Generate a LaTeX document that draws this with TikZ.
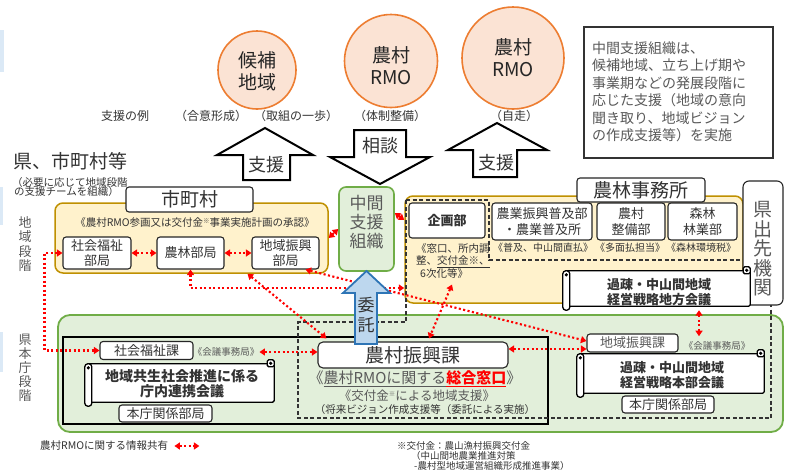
\documentclass[tikz,border=0pt]{standalone}
\usepackage{fontspec}
\setmainfont{Noto Sans CJK JP}
\usetikzlibrary{arrows.meta,calc}
\definecolor{orgB}{HTML}{ED7D31}
\definecolor{orgF}{HTML}{FBE3D4}
\definecolor{yelF}{HTML}{FFF2CC}
\definecolor{yelB}{HTML}{BF9000}
\definecolor{grnF}{HTML}{E2EFDA}
\definecolor{grnB}{HTML}{70AD47}
\definecolor{bluF}{HTML}{BDD7EE}
\definecolor{bluB}{HTML}{2E75B6}
\definecolor{txt}{HTML}{333333}
\definecolor{gtxt}{HTML}{595959}
\newcommand\fsz[2]{\fontsize{#1}{#2}\selectfont}
\newcommand\kome{\raisebox{0.35em}{\fontsize{6.5}{6.5}\selectfont ※}}
\newcommand\scrolldeco[1]{%
  \filldraw[scrl] ([xshift=2pt,yshift=-4pt]#1.north west) rectangle ([yshift=4pt]#1.south east);
  \filldraw[scrl] ([xshift=-7pt]#1.north east) rectangle ([yshift=-7pt]#1.north east);
  \fill ([xshift=-3.5pt,yshift=-3.5pt]#1.north east) circle (1.8pt);
  \filldraw[scrl,rounded corners=3pt] ([yshift=-4pt]#1.north west) rectangle ([xshift=7pt]#1.south west);
  \fill ([xshift=3.5pt,yshift=-8pt]#1.north west) circle (1.8pt);
}
\tikzset{
  rmo/.style={circle, draw=orgB, fill=orgF, line width=1.6pt, inner sep=0pt},
  wbox/.style={draw=black!85, fill=white, rounded corners=3pt, line width=1.1pt, inner sep=0pt, align=center, text=txt},
  ybox/.style={draw=yelB, fill=yelF, rounded corners=8pt, line width=1.5pt, inner sep=0pt},
  gbox/.style={draw=grnB, fill=grnF, rounded corners=6pt, line width=1.6pt, inner sep=0pt},
  scrl/.style={draw=black, fill=white, line width=1.3pt, rounded corners=1.5pt},
  lbl/.style={inner sep=0pt, text=txt, align=center},
  blk/.style={draw=black, fill=white, line width=2pt, line join=miter},
  info/.style={draw=red, line width=2.1pt, dash pattern=on 2.1pt off 2.4pt, {Triangle[length=5.5pt,width=7pt]}-{Triangle[length=5.5pt,width=7pt]}},
}
\begin{document}
\begin{tikzpicture}[x=1pt,y=-1pt]
\useasboundingbox (0,0) rectangle (786,474);
\fill[white] (0,0) rectangle (786,474);
% edge artifacts
\fill[bluF!55] (0,30) rectangle (3.5,72);
\fill[bluF!55] (0,187) rectangle (3,225);
\fill[bluF!55] (0,332) rectangle (3,372);

% circles
\node[rmo, minimum size=78pt] (c1) at (257,70) {};
\node[lbl, font=\fsz{19}{22}, text=black!85] (c1t) at (257,71) {候補\\地域};
\node[rmo, minimum size=93pt] (c2) at (391,61) {};
\node[lbl, font=\fsz{19}{22}, text=black!85] (c2t) at (391,66) {農村\\RMO};
\node[rmo, minimum size=102pt] (c3) at (513,58) {};
\node[lbl, font=\fsz{19}{22}, text=black!85] (c3t) at (513,58) {農村\\RMO};

\node[lbl, font=\fsz{12}{14}] (rei) at (125,116) {支援の例};
\node[lbl, font=\fsz{12}{14}] (r1) at (211,116) {（合意形成）};
\node[lbl, font=\fsz{12}{14}] (r2) at (296,116) {（取組の一歩）};
\node[lbl, font=\fsz{12}{14}] (r3) at (390,116) {（体制整備）};
\node[lbl, font=\fsz{12}{14}] (r4) at (514,116) {（自走）};

% note box
\node[draw=black!80, line width=1.3pt, minimum width=189pt, minimum height=131pt, inner sep=0pt] (note) at (678.5,92.5) {};
\node[anchor=north west, inner sep=0pt, align=left, text=gtxt, font=\fsz{14}{17.4}] (notet) at (592,41.5)
  {中間支援組織は、\\候補地域、立ち上げ期や\\事業期などの発展段階に\\応じた支援（地域の意向\\聞き取り、地域ビジョン\\の作成支援等）を実施};

% block arrows
\draw[blk] (243,180) -- (243,155) -- (217,155) -- (265,128) -- (313,155) -- (290,155) -- (290,180) -- cycle;
\node[lbl, font=\fsz{18}{18}] (sh1) at (266,165) {支援};
\draw[blk] (354,130) -- (406,130) -- (406,157) -- (430,157) -- (380,184) -- (330,157) -- (354,157) -- cycle;
\node[lbl, font=\fsz{18}{18}] (sodan) at (380,146) {相談};
\draw[blk] (473,177) -- (473,150) -- (448,150) -- (497,123) -- (547,150) -- (517,150) -- (517,177) -- cycle;
\node[lbl, font=\fsz{18}{18}] (sh2) at (496,163) {支援};

% left labels
\node[lbl, font=\fsz{19}{22}] (ken) at (70,161) {県、市町村等};
\node[anchor=west, inner sep=0pt, font=\fsz{10.5}{12}, text=txt] (hitsu1) at (12,183) {（必要に応じて地域段階};
\node[anchor=west, inner sep=0pt, font=\fsz{10.5}{12}, text=txt] (hitsu2) at (14,192) {の支援チームを組織）};
\node[lbl, font=\fsz{13}{14.5}, text=gtxt] (chiikidan) at (25,244) {地\\域\\段\\階};
\node[lbl, font=\fsz{13}{14}, text=gtxt] (honchodan) at (25,368) {県\\本\\庁\\段\\階};

% prefecture HQ (green)
\node[gbox, minimum width=725pt, minimum height=117pt, rounded corners=12pt, line width=1.8pt] (green) at (420.5,373.5) {};
\node[draw=black, line width=1.3pt, minimum width=485pt, minimum height=87pt, inner sep=0pt] (blkrect) at (305.5,380.5) {};

% municipality (yellow)
\node[ybox, minimum width=273pt, minimum height=70pt] (shichoson) at (191.5,238) {};
\node[wbox, minimum width=127pt, minimum height=25pt, font=\fsz{19}{19}] (shlbl) at (189.5,199.5) {市町村};
\node[lbl, font=\fsz{10.5}{12}] (shnote) at (195,223) {《農村RMO参画又は交付金\kome 事業実施計画の承認》};
\node[wbox, minimum width=68pt, minimum height=32pt, font=\fsz{13}{15}] (shbu) at (97,253) {社会福祉\\部局};
\node[wbox, minimum width=67pt, minimum height=32pt, font=\fsz{13}{15}] (noubu) at (190.5,253) {農林部局};
\node[wbox, minimum width=67pt, minimum height=32pt, font=\fsz{13}{15}] (chibu) at (285.5,253) {地域振興\\部局};

% intermediate support org
\node[gbox, minimum width=55pt, minimum height=84pt, rounded corners=7pt] (chukan) at (366.5,229) {};
\node[lbl, font=\fsz{17}{19}, text=gtxt] (chukant) at (366.5,222) {中間\\支援\\組織};

% agriculture office (yellow)
\node[ybox, minimum width=338pt, minimum height=107pt] (nourin) at (574,249.5) {};
\draw[black!80, line width=1.2pt, dash pattern=on 4pt off 2.5pt] (406,200) -- (489,200) -- (489,260) -- (771,260) -- (771,418) -- (298,418) -- (298,322) -- (406,322) -- cycle;
\node[wbox, minimum width=128pt, minimum height=24pt, font=\fsz{19}{19}] (nlbl) at (641,190) {農林事務所};
\node[wbox, minimum width=76pt, minimum height=35pt, font=\bfseries\fsz{13}{15}] (kikaku) at (447,220.5) {企画部};
\node[wbox, minimum width=100pt, minimum height=37pt, font=\fsz{13}{16}] (fukyu) at (542,221.5) {農業振興普及部\\・農業普及所};
\node[wbox, minimum width=68pt, minimum height=37pt, font=\fsz{13}{16}] (seibi) at (631,221.5) {農村\\整備部};
\node[wbox, minimum width=69pt, minimum height=37pt, font=\fsz{13}{16}] (shinrin) at (702.5,221.5) {森林\\林業部};
\node[anchor=north west, inner sep=0pt, align=left, text=txt, font=\fsz{10.5}{12.5}] (kikakun) at (416,243) {《窓口、所内調\\整、\underline{交付金※、}\\\hspace{4pt}6次化等》};
\node[lbl, font=\fsz{10}{12}] (fukyun) at (543,248) {《普及、中山間直払》};
\node[lbl, font=\fsz{10}{12}] (seibin) at (630,248) {《多面払担当》};
\node[lbl, font=\fsz{10}{12}] (shinrinn) at (701,248) {《森林環境税》};

% prefectural branch
\node[wbox, rounded corners=6pt, minimum width=40pt, minimum height=124pt] (dekisaki) at (763,243) {};
\node[lbl, font=\fsz{19}{19.5}, text=gtxt] (dekisakit) at (763,249) {県\\出\\先\\機\\関};

% regional strategy meeting (scroll)
\node[minimum width=187pt, minimum height=43pt, inner sep=0pt] (chiho) at (656.5,288.5) {};
\scrolldeco{chiho}
\node[lbl, font=\bfseries\fsz{13}{15}] (chihot) at (659,292.5) {過疎・中山間地域\\経営戦略地方会議};

% HQ contents
\node[wbox, minimum width=93pt, minimum height=18pt, font=\fsz{13}{13}] (shka) at (146.5,350.5) {社会福祉課};
\node[lbl, font=\fsz{9.5}{10}, text=gtxt] (kaigi1) at (226,352) {《会議事務局》};
\node[minimum width=189pt, minimum height=46pt, inner sep=0pt] (kyosei) at (179.5,383) {};
\scrolldeco{kyosei}
\node[lbl, font=\bfseries\fsz{14}{14.5}] (kyoseit) at (182,383.5) {地域共生社会推進に係る\\庁内連携会議};
\node[wbox, minimum width=93pt, minimum height=17pt, font=\fsz{13}{13}] (honchoL) at (165.5,413.5) {本庁関係部局};

\node[wbox, rounded corners=5pt, minimum width=190pt, minimum height=26pt, font=\fsz{19}{19}] (nrk) at (413,355) {農村振興課};
\node[lbl, font=\fsz{15}{17}, text=gtxt] (nrk1) at (415,379) {《\underline{農村RMOに関する}{\color{red}\bfseries\underline{総合窓口}}》};
\node[lbl, font=\fsz{12.5}{14}, text=gtxt] (nrk2) at (417,396) {《交付金\kome による地域支援》};
\node[lbl, font=\fsz{10.5}{12}] (nrk3) at (425,410) {（将来ビジョン作成支援等（委託による実施）};

\node[wbox, minimum width=91pt, minimum height=18pt, font=\fsz{13}{13}, text=gtxt] (chika) at (632.5,343) {地域振興課};
\node[lbl, font=\fsz{9.5}{10}, text=gtxt] (kaigi2) at (717,346) {《会議事務局》};
\node[minimum width=187pt, minimum height=47pt, inner sep=0pt] (honbu) at (670.5,373.5) {};
\scrolldeco{honbu}
\node[lbl, font=\bfseries\fsz{13}{14.5}] (honbut) at (672,375) {過疎・中山間地域\\経営戦略本部会議};
\node[wbox, minimum width=92pt, minimum height=17pt, font=\fsz{13}{13}] (honchoR) at (668,404.5) {本庁関係部局};

% information sharing connectors
\draw[info] (shbu.east) -- (noubu.west);
\draw[info] (noubu.east) -- (chibu.west);
\draw[info] (shichoson.east) -- (chukan.west);
\draw[info] ([yshift=16pt]chukan.east) -- ([yshift=29.5pt]nourin.west);
\draw[info] (shbu.west) -- ++(-18,0) |- (shka.west);
\draw[info] (noubu.south) |- ([yshift=-38.5pt]nourin.west);
\draw[info] ([xshift=20pt]chibu.south) -- ([yshift=2pt]chika.west);
\draw[info] ([yshift=6pt]nrk.east) -- ([yshift=-6pt]chika.west);
\draw[info] ([xshift=56pt]shichoson.south) -- ([xshift=9pt,yshift=3pt]nrk.north west);
\draw[info] ([xshift=5pt,yshift=-46pt]kikaku.south) -- ([xshift=16pt,yshift=3pt]nrk.north);
\draw[info] (kaigi1.east) -- (kaigi1.east -| nrk.west);
\draw[info] ([xshift=42.5pt]chiho.south) -- ++(0,26);

% entrustment arrow
\draw[draw=bluB, fill=bluF, line width=1.8pt, line join=miter] (355,344) -- (355,293) -- (343,293) -- (366.5,271) -- (390,293) -- (377,293) -- (377,344) -- cycle;
\node[lbl, font=\fsz{17}{20}] (itaku) at (366,315) {委\\託};

% legend and footnote
\node[anchor=west, inner sep=0pt, font=\fsz{10.5}{12}, text=txt] (legend) at (40,446) {農村RMOに関する情報共有};
\draw[info] ([xshift=6pt]legend.east) -- ++(25,0);
\node[anchor=west, inner sep=0pt, font=\fsz{9.5}{10}, text=txt] (fn1) at (397,446) {※交付金：農山漁村振興交付金};
\node[anchor=west, inner sep=0pt, font=\fsz{9.5}{10}, text=txt] (fn2) at (411,456) {（中山間地農業推進対策};
\node[anchor=west, inner sep=0pt, font=\fsz{9.5}{10}, text=txt] (fn3) at (414,466) {-農村型地域運営組織形成推進事業）};
\end{tikzpicture}
\end{document}
